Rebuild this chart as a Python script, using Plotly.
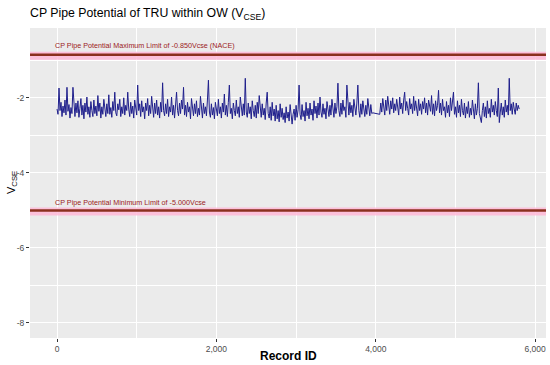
import plotly.graph_objects as go

# ---- data ----
RECORD_STEP = 12.5
potential_vcse = [
    -2.30, -2.44, -1.74, -2.34, -2.12, -2.50, -2.22, -2.40, -2.06, -2.46,
    -1.72, -2.36, -2.18, -2.54, -2.26, -2.42, -1.72, -2.30, -2.50, -2.14,
    -2.40, -2.08, -2.52, -2.28, -2.02, -2.46, -2.20, -2.56, -2.14, -2.38,
    -1.98, -2.44, -2.24, -2.52, -2.10, -2.34, -2.50, -2.06, -2.42, -2.22,
    -2.48, -1.94, -2.36, -2.14, -2.54, -2.24, -2.44, -2.04, -2.32, -2.50,
    -2.16, -2.42, -1.92, -2.44, -2.26, -2.52, -2.10, -2.34, -1.85, -2.40,
    -2.48, -2.16, -2.32, -2.04, -2.50, -2.24, -2.42, -2.00, -2.46, -2.20,
    -2.34, -1.85, -2.30, -2.50, -2.12, -2.42, -2.22, -2.54, -2.06, -2.34,
    -2.46, -1.66, -2.34, -2.16, -2.50, -2.08, -2.38, -2.24, -2.56, -2.14,
    -2.34, -2.02, -2.48, -2.20, -2.42, -1.96, -2.34, -2.52, -2.14, -2.42,
    -2.06, -2.46, -2.24, -2.54, -2.12, -2.38, -1.60, -2.34, -2.48, -2.16,
    -2.42, -2.04, -2.50, -2.24, -2.38, -1.98, -2.46, -2.20, -2.54, -2.12,
    -1.85, -2.34, -2.48, -2.14, -2.42, -2.06, -2.30, -1.72, -2.46, -2.20,
    -2.50, -2.12, -2.38, -2.24, -2.56, -2.02, -2.34, -2.48, -2.16, -2.42,
    -2.08, -2.50, -2.28, -2.46, -1.96, -2.34, -2.54, -2.14, -2.42, -2.24,
    -2.48, -2.06, -1.53, -2.38, -2.52, -2.16, -2.46, -2.26, -2.56, -2.12,
    -2.34, -2.48, -2.04, -2.42, -2.24, -2.54, -2.14, -2.38, -1.90, -2.46,
    -2.20, -2.50, -2.12, -1.66, -2.42, -2.28, -2.56, -2.14, -2.34, -2.48,
    -2.06, -2.42, -2.24, -2.52, -1.98, -2.34, -2.48, -2.16, -2.46, -1.48,
    -2.38, -2.52, -2.14, -2.42, -2.24, -2.56, -2.08, -2.34, -2.50, -2.20,
    -2.54, -2.12, -2.42, -1.94, -2.34, -2.52, -2.16, -2.46, -2.28, -2.58,
    -2.14, -1.85, -2.42, -2.54, -2.24, -2.60, -2.12, -2.48, -2.30, -2.62,
    -2.20, -2.56, -2.34, -2.64, -2.16, -2.52, -2.28, -2.58, -2.40, -2.66,
    -2.24, -2.54, -2.38, -2.62, -2.18, -2.56, -2.70, -2.44, -2.30, -2.60,
    -2.20, -2.52, -2.32, -1.66, -2.44, -2.58, -2.18, -2.50, -2.34, -2.62,
    -2.12, -2.48, -2.28, -2.56, -2.14, -2.46, -2.30, -2.60, -2.08, -2.42,
    -2.22, -2.54, -2.14, -2.46, -1.98, -2.38, -2.52, -2.16, -2.44, -2.28,
    -2.56, -2.10, -2.34, -2.50, -2.20, -2.46, -2.04, -2.38, -2.52, -2.14,
    -2.42, -2.24, -1.61, -2.34, -2.50, -2.14, -2.44, -2.06, -2.34, -2.24,
    -2.52, -1.66, -2.30, -2.46, -2.12, -2.40, -2.20, -2.50, -2.04, -2.34,
    -2.46, -2.14, -1.66, -2.34, -2.52, -2.16, -2.44, -2.08, -2.34, -2.50,
    -2.20, -2.44, -2.02, -2.34, -2.48, -2.18, -2.42, -2.40, None, None,
    None, None, None, None, -2.44, -2.14, -2.38, -2.02, -2.30, -2.46,
    -2.06, -2.34, -1.96, -2.26, -2.44, -2.08, -2.30, -2.00, -2.40, -2.16,
    -2.34, -2.04, -2.28, -2.46, -1.98, -2.30, -2.14, -2.42, -2.06, -1.85,
    -2.34, -2.10, -2.28, -2.46, -2.02, -2.30, -2.16, -2.42, -1.96, -2.34,
    -2.08, -2.28, -2.48, -2.04, -2.34, -2.16, -2.44, -2.10, -2.30, -2.00,
    -2.40, -2.14, -2.46, -2.06, -2.28, -2.36, -1.94, -2.44, -2.16, -2.48,
    -2.08, -2.34, -2.20, -1.80, -2.40, -2.14, -2.46, -2.04, -2.34, -2.24,
    -2.52, -2.10, -2.40, -2.20, -2.50, -2.00, -2.34, -2.16, -1.85, -2.44,
    -2.24, -2.52, -2.08, -2.40, -2.20, -2.50, -2.04, -2.34, -2.46, -2.14,
    -2.54, -2.24, -2.42, -2.10, -2.52, -2.28, -2.46, -2.06, -2.40, -2.56,
    -2.16, -2.46, -2.28, -1.60, -2.42, -2.56, -2.66, -2.34, -2.14, -2.50,
    -2.24, -2.54, -2.08, -2.42, -2.28, -2.52, -2.04, -2.38, -2.20, -2.46,
    -2.10, -2.34, -2.50, -1.74, -2.66, -2.38, -2.14, -2.46, -2.24, -2.52,
    -2.06, -2.38, -2.20, -2.46, -1.48, -2.34, -2.16, -2.44, -2.12, -2.30,
    -2.44, -2.14, -2.34, -2.20, -2.30,
]
record_id = [i * RECORD_STEP for i in range(len(potential_vcse))]

MAX_LIMIT = -0.85
MIN_LIMIT = -5.0
max_label = "CP Pipe Potential Maximum Limit of -0.850Vcse (NACE)"
min_label = "CP Pipe Potential Minimum Limit of -5.000Vcse"

x_tick_vals = [0, 2000, 4000, 6000]
x_tick_text = ["0", "2,000", "4,000", "6,000"]
y_tick_vals = [-8, -6, -4, -2]
y_tick_text = ["-8", "-6", "-4", "-2"]

FONT = "Arial, Liberation Sans, sans-serif"
LIMIT_COLOR = "#8A2F1D"
PANEL_L, PANEL_R, PANEL_T, PANEL_B = 30, 546, 28, 338
W, H = 550, 365

fig = go.Figure()
fig.add_trace(go.Scatter(
    x=record_id, y=potential_vcse, mode="lines", connectgaps=True,
    line=dict(color="#1F1F8C", width=1), showlegend=False, hoverinfo="skip",
))

for lim in (MAX_LIMIT, MIN_LIMIT):
    fig.add_hline(y=lim - 0.03, line=dict(color="rgba(255,185,215,0.85)", width=8), layer="above")
    fig.add_hline(y=lim, line=dict(color=LIMIT_COLOR, width=2.5), layer="above")

fig.add_annotation(x=-50, y=MAX_LIMIT + 0.25, xref="x", yref="y", text=max_label,
                   showarrow=False, xanchor="left", yanchor="middle",
                   font=dict(family=FONT, size=7.2, color="#9B1B1B"))
fig.add_annotation(x=-50, y=MIN_LIMIT + 0.2, xref="x", yref="y", text=min_label,
                   showarrow=False, xanchor="left", yanchor="middle",
                   font=dict(family=FONT, size=7.2, color="#9B1B1B"))

pw = PANEL_R - PANEL_L
ph = PANEL_B - PANEL_T
# y-axis title
fig.add_annotation(x=(12 - PANEL_L) / pw, y=(PANEL_B - 183) / ph, xref="paper", yref="paper",
                   text="V<sub>CSE</sub>", showarrow=False, textangle=-90,
                   xanchor="center", yanchor="middle",
                   font=dict(family=FONT, size=11, color="black"))
# x-axis title
fig.add_annotation(x=0.5, y=-(356 - PANEL_B) / ph, xref="paper", yref="paper",
                   text="<b>Record ID</b>", showarrow=False,
                   xanchor="center", yanchor="middle",
                   font=dict(family=FONT, size=12, color="black"))

axis_common = dict(
    showgrid=True, gridcolor="white", gridwidth=1, zeroline=False,
    ticks="outside", ticklen=3, tickwidth=1, tickcolor="#333333",
    tickfont=dict(family=FONT, size=8.5, color="#4D4D4D"), showline=False,
    automargin=False,
)
fig.update_xaxes(range=[-339, 6136], tickvals=x_tick_vals, ticktext=x_tick_text,
                 minor=dict(dtick=1000, tick0=0, showgrid=True, gridcolor="white",
                            gridwidth=0.5, ticks=""),
                 **axis_common)
fig.update_yaxes(range=[-8.40, -0.14], tickvals=y_tick_vals, ticktext=y_tick_text,
                 minor=dict(dtick=1, tick0=0, showgrid=True, gridcolor="white",
                            gridwidth=0.5, ticks=""),
                 **axis_common)

fig.update_layout(
    width=W, height=H,
    margin=dict(l=PANEL_L, r=W - PANEL_R, t=PANEL_T, b=H - PANEL_B, pad=0),
    paper_bgcolor="white", plot_bgcolor="#EBEBEB",
    title=dict(text="CP Pipe Potential of TRU within OW (V<sub>CSE</sub>)",
               x=PANEL_L / W, xanchor="left", y=1 - 13 / H, yanchor="middle",
               font=dict(family=FONT, size=12.3, color="black")),
    font=dict(family=FONT),
)

fig.write_html("out.html", config={"displayModeBar": False},
               post_script="document.body.style.margin='0';")
